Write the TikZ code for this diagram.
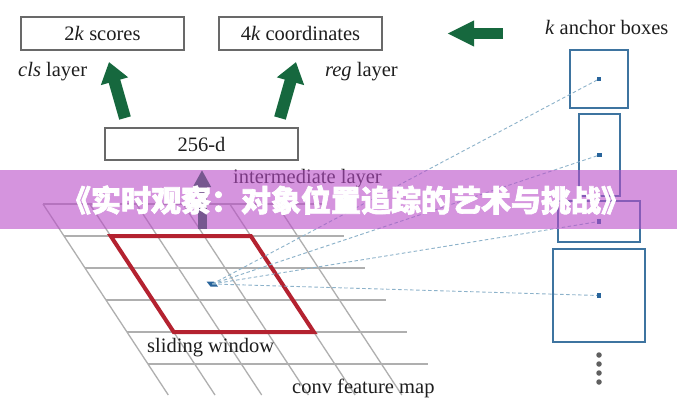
\documentclass[tikz,border=0pt]{standalone}
\usepackage{fontspec}
\setmainfont{Liberation Serif}
\newfontfamily\cjk{Noto Sans CJK SC}[BoldFeatures={FakeBold=2.2}]
\usetikzlibrary{arrows.meta}
\definecolor{boxgray}{RGB}{105,105,105}
\definecolor{arrgreen}{RGB}{22,104,62}
\definecolor{winred}{RGB}{180,34,48}
\definecolor{anchblue}{RGB}{62,116,160}
\definecolor{dotblue}{RGB}{40,100,155}
\definecolor{dashblue}{RGB}{140,178,202}
\definecolor{gridgray}{RGB}{175,175,175}
\definecolor{bannerpurple}{RGB}{185,77,200}
\definecolor{txtgray}{RGB}{30,30,30}
\definecolor{dotgray}{RGB}{95,95,95}
\begin{document}
\begin{tikzpicture}[x=1pt,y=-1pt,
  lbl/.style={font=\fontsize{20.5}{24}\selectfont, text=txtgray, inner sep=0pt},
  outbox/.style={draw=boxgray, line width=1.4pt, minimum width=163pt, minimum height=33pt, inner sep=0pt, font=\fontsize{20.5}{24}\selectfont, text=txtgray},
  anchorbox/.style={draw=anchblue, line width=1.5pt, inner sep=0pt},
  anchordot/.style={fill=dotblue, inner sep=0pt, minimum size=4.5pt},
  griddot/.style={circle, fill=dotgray, inner sep=0pt, minimum size=5.5pt},
  gridline/.style={draw=gridgray, line width=1.3pt},
  dashlink/.style={draw=dashblue, line width=0.9pt, dash pattern=on 3.5pt off 2.5pt},
  bigarrow/.style={draw=arrgreen, line width=12pt, -{Triangle[width=27pt,length=20pt]}}
]
\useasboundingbox (0,0) rectangle (677,400);
\fill[white] (0,0) rectangle (677,400);

% conv feature map grid
\foreach \i in {0,...,5}{
  \draw[gridline] ({43+21*\i},{204+32*\i}) -- ({43+21*\i+280},{204+32*\i});
}
\foreach \c in {0,...,5}{
  \draw[gridline] ({43+46.7*\c},204) -- ({43+46.7*\c+125.3},395);
}

% sliding window
\coordinate (w1) at (110.7,236);
\coordinate (w2) at (250.8,236);
\coordinate (w3) at (313.8,332);
\coordinate (w4) at (173.7,332);
\draw[winred, line width=4pt, line join=miter] (w1) -- (w2) -- (w3) -- (w4) -- cycle;

% center point
\coordinate (ctr) at (212.3,284);
\fill[dotblue] (206.5,281.5) -- (214,281.5) -- (218,286.5) -- (210.5,286.5) -- cycle;

% anchor boxes
\node[anchorbox, minimum width=58pt, minimum height=58pt] (a1) at (599,79) {};
\node[anchorbox, minimum width=41pt, minimum height=82pt] (a2) at (599.5,155) {};
\node[anchorbox, minimum width=82pt, minimum height=41pt] (a3) at (599,221.5) {};
\node[anchorbox, minimum width=92pt, minimum height=93pt] (a4) at (599,295.5) {};
\foreach \n in {a1,a2,a3,a4}{
  \draw[dashlink] (ctr) -- (\n.center);
  \node[anchordot] at (\n.center) {};
}
\node[griddot] (g1) at (599,355) {};
\node[griddot] (g2) at (599,364) {};
\node[griddot] (g3) at (599,373) {};
\node[griddot] (g4) at (599,382) {};

% output boxes
\node[outbox] (scores) at (102.5,33.5) {2\textit{k} scores};
\node[outbox] (coords) at (300.5,33.5) {4\textit{k} coordinates};
\node[outbox, minimum width=193pt, minimum height=32pt] (feat) at (201.5,144) {256-d};

% labels
\node[lbl, anchor=base west] (cls) at (18,76) {\textit{cls} layer};
\node[lbl, anchor=base east] (reg) at (398,76) {\textit{reg} layer};
\node[lbl, anchor=base west] (inter) at (233,183) {intermediate layer};
\node[lbl, anchor=base west] (klbl) at (545,34) {\textit{k} anchor boxes};
\node[lbl, anchor=base west] (slide) at (147,352) {sliding window};
\node[lbl, anchor=base west] (conv) at (292,393) {conv feature map};

% arrows
\coordinate (c1) at (125,118);
\coordinate (c2) at (109,62);
\coordinate (r1) at (280,118);
\coordinate (r2) at (296,62);
\coordinate (h1) at (503,33.5);
\coordinate (h2) at (447,33.5);
\coordinate (i1) at (202,229);
\coordinate (i2) at (202,170);
\draw[bigarrow] (c1) -- (c2);
\draw[bigarrow] (r1) -- (r2);
\draw[draw=arrgreen, line width=11pt, -{Triangle[width=24pt,length=27pt]}] (h1) -- (h2);
\draw[draw=arrgreen, line width=9pt, -{Triangle[width=17pt,length=17pt]}] (i1) -- (i2);

% banner
\fill[bannerpurple, opacity=0.6] (0,170) rectangle (677,229);
\node[font=\cjk\bfseries\fontsize{30}{34}\selectfont, text=white, inner sep=0pt] (title) at (346,200) {《实时观察：对象位置追踪的艺术与挑战》};
\end{tikzpicture}
\end{document}
